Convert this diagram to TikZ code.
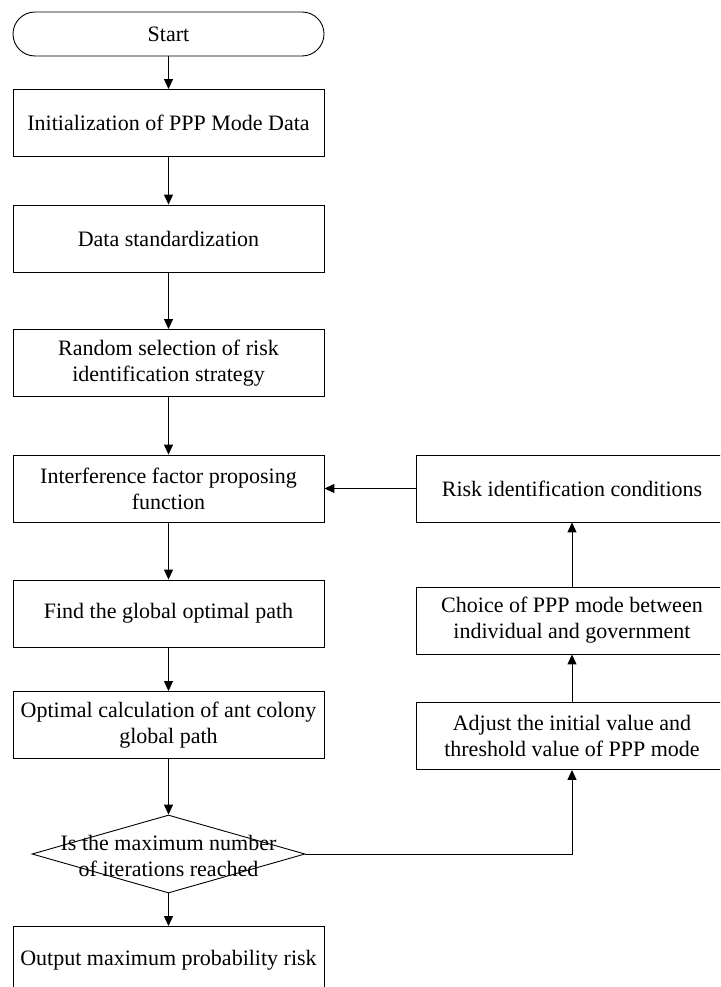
\documentclass[tikz,border=0pt]{standalone}
\usepackage{fontspec}
\setmainfont{Liberation Serif}
\usetikzlibrary{arrows.meta,shapes.geometric}

\begin{document}
\begin{tikzpicture}[x=1pt,y=-1pt,
    font=\fontsize{22}{26}\selectfont,
    stepbox/.style={draw,line width=0.9pt,minimum width=311pt,minimum height=67pt,inner sep=0pt,align=center},
    flow/.style={line width=1pt,-{Triangle[width=9pt,length=10pt]}}]
  \useasboundingbox (0,0) rectangle (720,987);
  \clip (0,0) rectangle (720,987);
  % left column
  \node [draw,line width=0.9pt,rounded corners=22pt,minimum width=311pt,minimum height=44pt,inner sep=0pt] (start) at (168.5,34) {Start};
  \node [stepbox] (init) at (168.5,123) {Initialization of PPP Mode Data};
  \node [stepbox] (std) at (168.5,238.5) {Data standardization};
  \node [stepbox] (rand) at (168.5,363) {Random selection of risk\\identification strategy};
  \node [stepbox] (interf) at (168.5,488.5) {Interference factor proposing\\function};
  \node [stepbox] (glob) at (168.5,613.5) {Find the global optimal path};
  \node [stepbox] (calc) at (168.5,725) {Optimal calculation of ant colony\\global path};
  \node [draw,line width=0.9pt,diamond,minimum width=273pt,minimum height=78pt,inner sep=0pt] (iter) at (168.5,854) {};
  \node [align=center,inner sep=0pt] (itertext) at (168.5,856) {Is the maximum number\\of iterations reached};
  \node [stepbox] (out) at (168.5,960) {Output maximum probability risk};
  % right column
  \node [stepbox] (cond) at (572,488.5) {Risk identification conditions};
  \node [stepbox] (choice) at (572,620.5) {Choice of PPP mode between\\individual and government};
  \node [stepbox] (adjust) at (572,736) {Adjust the initial value and\\threshold value of PPP mode};
  % connectors
  \draw [flow] (start) -- (init);
  \draw [flow] (init) -- (std);
  \draw [flow] (std) -- (rand);
  \draw [flow] (rand) -- (interf);
  \draw [flow] (interf) -- (glob);
  \draw [flow] (glob) -- (calc);
  \draw [flow] (calc) -- (iter);
  \draw [flow] (iter) -- (out);
  \draw [flow] (iter.east) -| (adjust.south);
  \draw [flow] (adjust) -- (choice);
  \draw [flow] (choice) -- (cond);
  \draw [flow] (cond) -- (interf);
\end{tikzpicture}
\end{document}
